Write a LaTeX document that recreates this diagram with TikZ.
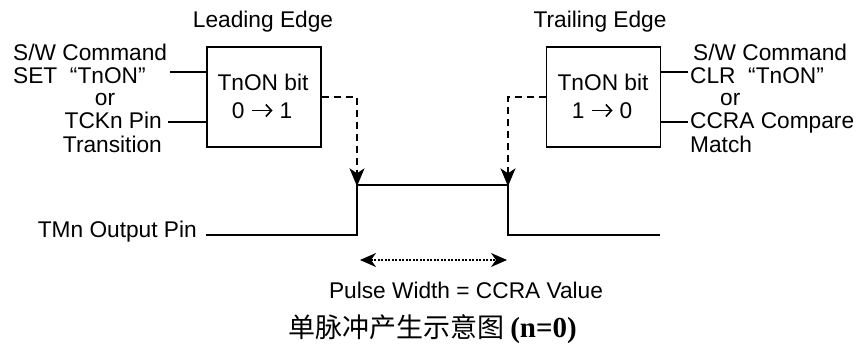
\documentclass[tikz,border=0pt]{standalone}
\usepackage{fontspec}
\setmainfont{Liberation Sans}
\newfontfamily\cjkfont{Noto Sans CJK SC}
\newfontfamily\serifbold{Liberation Serif}
\usetikzlibrary{arrows.meta}
\newcommand{\myarrow}{\tikz[baseline=-0.33em]\draw[line width=1.6pt,-{Straight Barb[length=5.5pt,width=12pt,line width=1.6pt]}] (0,0)--(21pt,0);}
\begin{document}
\begin{tikzpicture}[x=1pt,y=-1pt,
  txt/.style={inner sep=0pt,font=\fontsize{22.7}{26}\selectfont},
  bitbox/.style={draw,line width=1.3pt,minimum width=114pt,minimum height=100pt,inner sep=0pt},
  inline/.style={line width=1.3pt},
  wave/.style={line width=2.7pt,line join=miter},
  trig/.style={line width=1.3pt,dash pattern=on 7pt off 5pt,-{Stealth[length=18pt,width=15pt,inset=5pt]}},
  span/.style={line width=1.3pt,dash pattern=on 2pt off 1.5pt,{Stealth[length=16pt,width=14pt,inset=5pt]}-{Stealth[length=16pt,width=14pt,inset=5pt]}}]
\useasboundingbox (0,0) rectangle (861,345);

% boxes
\node[bitbox] (lbox) at (264,97) {};
\node[bitbox] (rbox) at (603.5,97) {};
\node[txt,anchor=base] (lb1) at (263,90) {TnON bit};
\node[txt,anchor=base] (lb2) at (262,118) {0 \myarrow\ 1};
\node[txt,anchor=base] (rb1) at (603,90) {TnON bit};
\node[txt,anchor=base] (rb2) at (602,118) {1 \myarrow\ 0};

% titles
\node[txt,anchor=base] (lead) at (263,28) {Leading Edge};
\node[txt,anchor=base] (trail) at (600,28) {Trailing Edge};

% left inputs
\node[txt,anchor=base west] (l1) at (13,60) {S/W Command};
\node[txt,anchor=base west] (l2) at (13,83) {SET \ “TnON”};
\node[txt,anchor=base] (l3) at (105,105) {or};
\node[txt,anchor=base east] (l4) at (162,128) {TCKn Pin};
\node[txt,anchor=base east] (l5) at (162,152) {Transition};
\coordinate (li1) at (170,72);
\coordinate (li2) at (168,122);
\draw[inline] (li1) -- (li1 -| lbox.west);
\draw[inline] (li2) -- (li2 -| lbox.west);

% right inputs
\node[txt,anchor=base west] (r1) at (693,60) {S/W Command};
\node[txt,anchor=base west] (r2) at (690,83) {CLR \ “TnON”};
\node[txt,anchor=base west] (r3) at (720,105) {or};
\node[txt,anchor=base west] (r4) at (690,128) {CCRA Compare};
\node[txt,anchor=base west] (r5) at (690,152) {Match};
\coordinate (ri1) at (688,72);
\coordinate (ri2) at (688,122);
\draw[inline] (ri1) -- (ri1 -| rbox.east);
\draw[inline] (ri2) -- (ri2 -| rbox.east);

% waveform
\node[txt,anchor=base east] (tmn) at (197,237) {TMn Output Pin};
\coordinate (w0) at (206,235);
\coordinate (w1) at (357,235);
\coordinate (w2) at (357,185);
\coordinate (w3) at (508,185);
\coordinate (w4) at (508,235);
\coordinate (w5) at (660,235);
\draw[wave] (w0) -- (w1) -- (w2) -- (w3) -- (w4) -- (w5);

% trigger arrows
\draw[trig] (lbox.east) -| ([yshift=-1.3pt]w2);
\draw[trig] (rbox.west) -| ([yshift=-1.3pt]w3);

% pulse width
\coordinate (p1) at (360,260);
\coordinate (p2) at (507,260);
\draw[span] (p1) -- (p2);
\node[txt,anchor=base] (pw) at (466,298) {Pulse Width = CCRA Value};

% caption
\node[inner sep=0pt,anchor=base west] (cap) at (288,337)
  {\fontsize{27}{30}\selectfont\cjkfont 单脉冲产生示意图\ {\fontsize{29}{32}\selectfont\serifbold\bfseries (n=0)}};
\end{tikzpicture}
\end{document}
